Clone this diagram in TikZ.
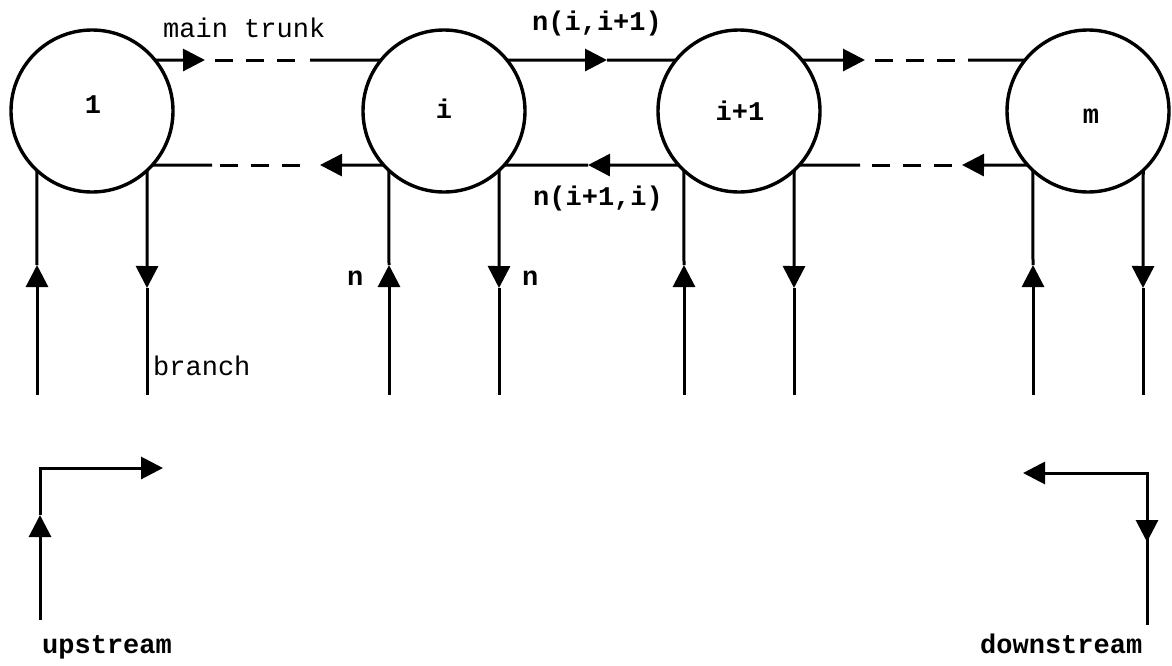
\documentclass[tikz,border=0pt]{standalone}
\usepackage{fontspec}
\setmonofont{Liberation Mono}
\usetikzlibrary{arrows.meta}
\begin{document}
\begin{tikzpicture}[x=1pt,y=-1pt,
  ln/.style={line width=3pt},
  arr/.style={ln,-{Triangle[length=22pt,width=22pt]}},
  dsh/.style={ln,dash pattern=on 18pt off 13pt},
  stn/.style={circle,draw,line width=3.4pt,minimum size=162pt,inner sep=0pt,outer sep=0pt},
  lbl/.style={font=\fontsize{27}{30}\selectfont\ttfamily,inner sep=0pt},
  blbl/.style={font=\fontsize{27}{30}\selectfont\ttfamily\bfseries,inner sep=0pt}]
\useasboundingbox (0,0) rectangle (1172,665);

% stations
\node[stn] (c1)  at (92,111)  {};
\node[stn] (ci)  at (444,111) {};
\node[stn] (cip) at (739,111) {};
\node[stn] (cm)  at (1088,111) {};
\node[blbl,anchor=base] (l1)  at (93,113)  {1};
\node[blbl,anchor=base] (li)  at (444,118) {i};
\node[blbl,anchor=base] (lip) at (740,120) {i+1};
\node[blbl,anchor=base] (lm)  at (1091,123) {m};

% branches
\foreach \n/\cx in {c1/92, ci/444, cip/739, cm/1088} {
  \coordinate (\n bl) at (\cx-55,395);
  \coordinate (\n ut) at (\cx-55,265);
  \coordinate (\n br) at (\cx+55,395);
  \coordinate (\n dt) at (\cx+55,288);
  \draw[arr] (\n bl) -- (\n ut);
  \draw[ln] (\n ut) -- (\n.-133);
  \draw[arr] (\n.-47) -- (\n dt);
  \draw[ln] (\n dt) -- (\n br);
}

% main trunk, top (downstream direction)
\coordinate (a1) at (205,60);
\coordinate (d1s) at (215,60);
\coordinate (d1e) at (300,60);
\coordinate (s1) at (310,60);
\draw[arr] (c1.39) -- (a1);
\draw[dsh] (d1s) -- (d1e);
\draw[ln] (s1) -- (ci.141);

\coordinate (a2) at (607,60);
\draw[arr] (ci.39) -- (a2);
\draw[ln] (a2) -- (cip.141);

\coordinate (a3) at (865,60);
\coordinate (d3s) at (875,60);
\coordinate (d3e) at (955,60);
\coordinate (s3) at (968,60);
\draw[arr] (cip.39) -- (a3);
\draw[dsh] (d3s) -- (d3e);
\draw[ln] (s3) -- (cm.141);

% main trunk, bottom (upstream direction)
\coordinate (b1) at (320,165);
\coordinate (e1s) at (300,165);
\coordinate (e1e) at (220,165);
\coordinate (t1) at (212,165);
\draw[arr] (ci.222) -- (b1);
\draw[dsh] (e1s) -- (e1e);
\draw[ln] (t1) -- (c1.-42);

\coordinate (b2) at (588,165);
\draw[arr] (cip.222) -- (b2);
\draw[ln] (b2) -- (ci.-42);

\coordinate (b3) at (962,165);
\coordinate (e3s) at (952,165);
\coordinate (e3e) at (870,165);
\coordinate (t3) at (860,165);
\draw[arr] (cm.222) -- (b3);
\draw[dsh] (e3s) -- (e3e);
\draw[ln] (t3) -- (cip.-42);

% upstream / downstream
\coordinate (us0) at (40,620);
\coordinate (ust) at (40,515);
\coordinate (usc) at (40,468);
\coordinate (usa) at (163,468);
\draw[arr] (us0) -- (ust);
\draw[arr] (ust) -- (usc) -- (usa);

\coordinate (dsc) at (1147,473);
\coordinate (dsa) at (1023,473);
\coordinate (dst) at (1147,542);
\coordinate (ds0) at (1147,625);
\draw[arr] (dst) -- (dsc) -- (dsa);
\draw[arr] (dsc) -- (dst);
\draw[ln] (dst) -- (ds0);

% labels
\node[lbl,anchor=base west] (tmain) at (163,37) {main trunk};
\node[blbl,anchor=base west] (tnf) at (532,30) {n(i,i+1)};
\node[blbl,anchor=base west] (tnb) at (533,205) {n(i+1,i)};
\node[blbl,anchor=base west] (tnl) at (347,285) {n};
\node[blbl,anchor=base west] (tnr) at (522,285) {n};
\node[lbl,anchor=base west] (tbr) at (153,375) {branch};
\node[blbl,anchor=base west] (tup) at (42,653) {upstream};
\node[blbl,anchor=base west] (tdn) at (980,653) {downstream};
\end{tikzpicture}
\end{document}
